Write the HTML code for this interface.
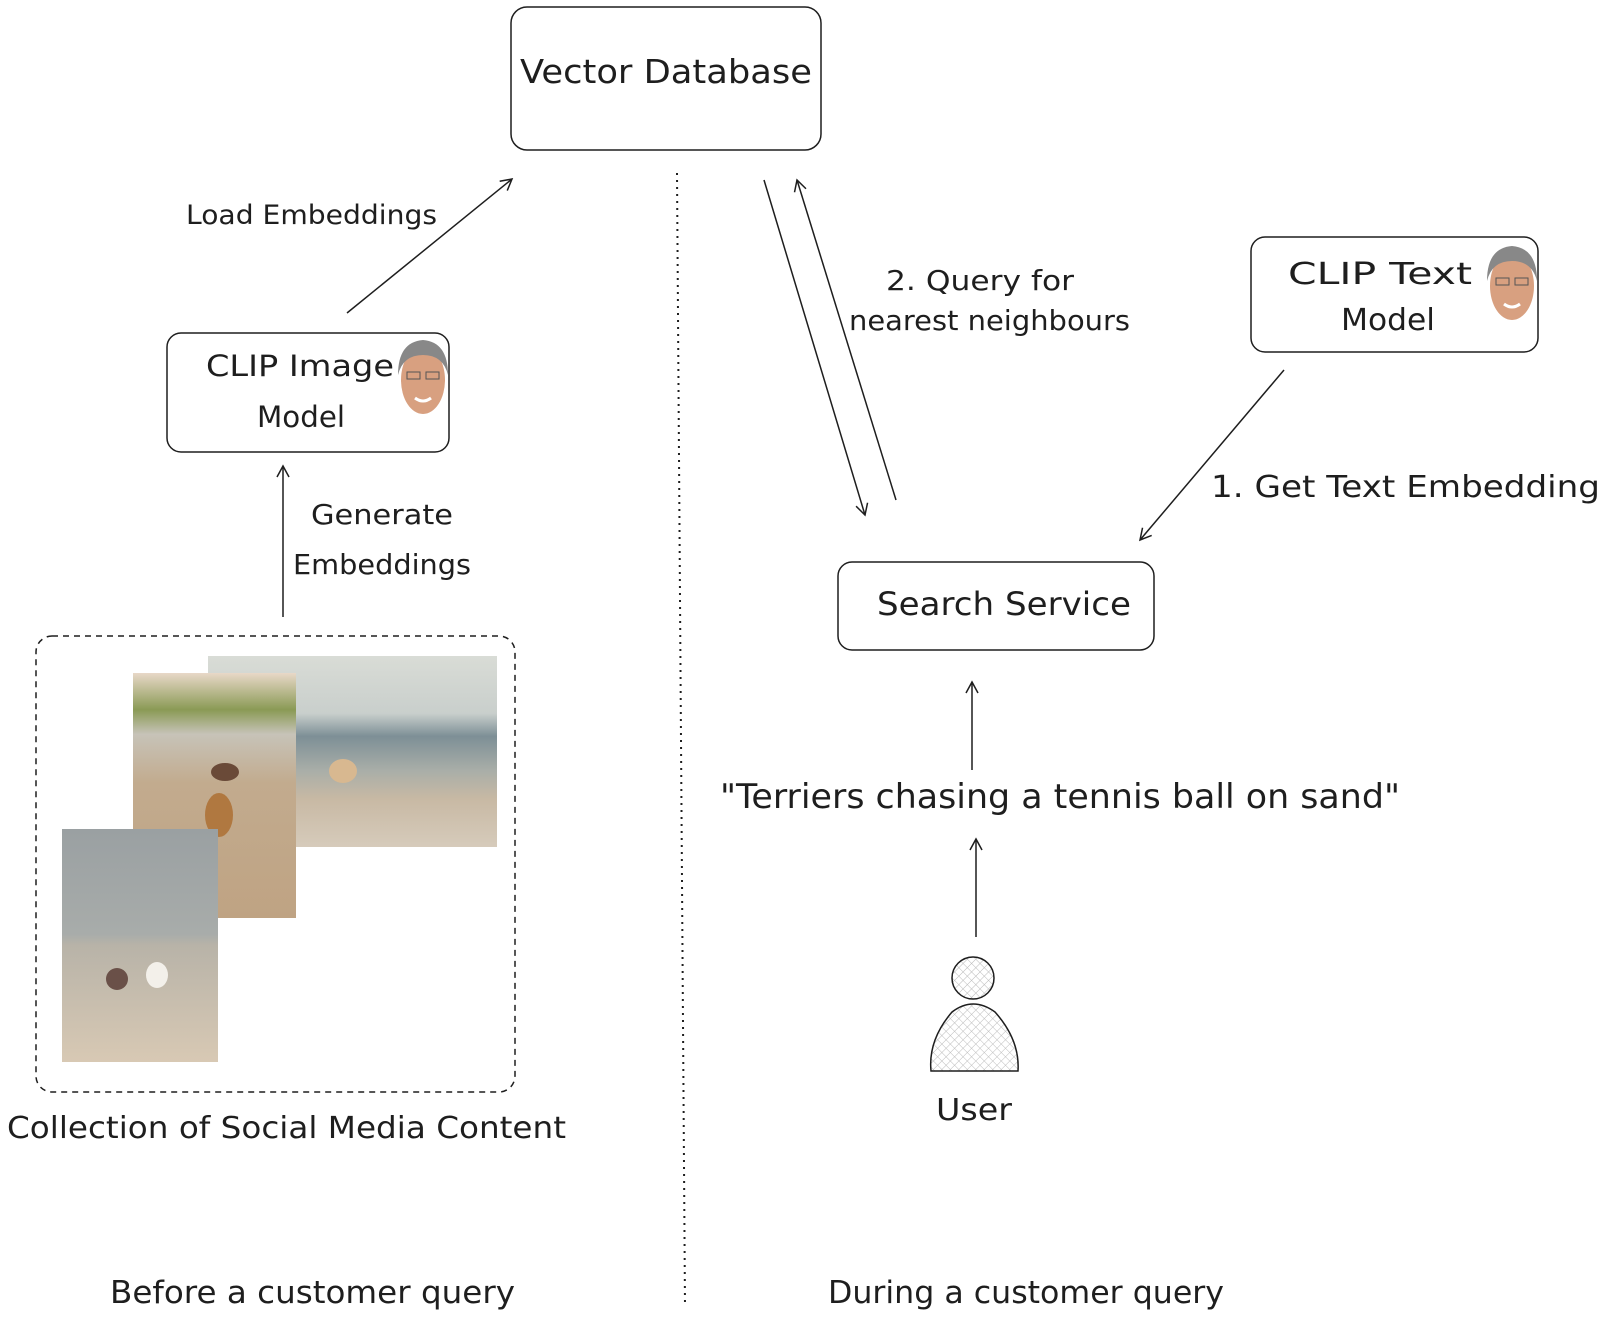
<!DOCTYPE html>
<html><head><meta charset="utf-8"><style>
html,body{margin:0;padding:0;background:#fff}
svg{display:block}
text{font-family:"DejaVu Sans","Liberation Sans",sans-serif;fill:#1e1e1e}
</style></head><body>
<svg width="1600" height="1321" viewBox="0 0 1600 1321" xmlns="http://www.w3.org/2000/svg">
<defs>
<marker id="ah" markerWidth="14" markerHeight="14" refX="12" refY="7" orient="auto" markerUnits="userSpaceOnUse">
<path d="M1,1 L12,7 L1,13" fill="none" stroke="#1e1e1e" stroke-width="1.5"/>
</marker>
<linearGradient id="gA" x1="0" y1="0" x2="0" y2="1">
<stop offset="0" stop-color="#d9dcd6"/><stop offset="0.3" stop-color="#c9cfcc"/><stop offset="0.42" stop-color="#7d8f96"/><stop offset="0.6" stop-color="#a9aea8"/><stop offset="0.75" stop-color="#c8b9a4"/><stop offset="1" stop-color="#d6cbbb"/>
</linearGradient>
<linearGradient id="gB" x1="0" y1="0" x2="0" y2="1">
<stop offset="0" stop-color="#e8d8c8"/><stop offset="0.15" stop-color="#8a9a55"/><stop offset="0.25" stop-color="#c7c3b8"/><stop offset="0.45" stop-color="#c2ab8e"/><stop offset="1" stop-color="#bfa383"/>
</linearGradient>
<linearGradient id="gC" x1="0" y1="0" x2="0" y2="1">
<stop offset="0" stop-color="#9aa0a2"/><stop offset="0.45" stop-color="#a8acaa"/><stop offset="0.5" stop-color="#b8b3a8"/><stop offset="1" stop-color="#d8c9b4"/>
</linearGradient>
<pattern id="hatch" width="6" height="6" patternUnits="userSpaceOnUse" patternTransform="rotate(45)">
<line x1="0" y1="0" x2="0" y2="6" stroke="#bbb" stroke-width="1"/><line x1="0" y1="0" x2="6" y2="0" stroke="#bbb" stroke-width="1"/>
</pattern>
</defs>

<!-- Vector DB -->
<rect x="511" y="7" width="310" height="143" rx="16" fill="none" stroke="#1e1e1e" stroke-width="1.5"/>
<text x="666" y="83" font-size="33" text-anchor="middle" textLength="292" lengthAdjust="spacingAndGlyphs">Vector Database</text>

<!-- divider -->
<line x1="677" y1="173" x2="685" y2="1306" stroke="#1e1e1e" stroke-width="2" stroke-dasharray="2,5"/>

<!-- CLIP Image -->
<rect x="167" y="333" width="282" height="119" rx="14" fill="none" stroke="#1e1e1e" stroke-width="1.5"/>
<text x="300" y="376" font-size="29" text-anchor="middle" textLength="188" lengthAdjust="spacingAndGlyphs">CLIP Image</text>
<text x="301" y="427" font-size="29" text-anchor="middle" textLength="88" lengthAdjust="spacingAndGlyphs">Model</text>
<g transform="translate(423,380)">
<ellipse cx="0" cy="0" rx="22" ry="34" fill="#d8a080"/>
<path d="M-25,-5 Q-25,-38 0,-40 Q25,-38 25,-5 Q20,-25 0,-25 Q-20,-25 -25,-5Z" fill="#888"/>
<rect x="-16" y="-8" width="13" height="7" fill="none" stroke="#555"/><rect x="3" y="-8" width="13" height="7" fill="none" stroke="#555"/>
<path d="M-8,18 Q0,24 8,18" stroke="#fff" stroke-width="3" fill="none"/>
</g>

<!-- Load embeddings -->
<line x1="347" y1="313" x2="512" y2="179" stroke="#1e1e1e" stroke-width="1.5" marker-end="url(#ah)"/>
<text x="186" y="224" font-size="27" textLength="251" lengthAdjust="spacingAndGlyphs">Load Embeddings</text>

<!-- Generate -->
<line x1="283" y1="617" x2="283" y2="466" stroke="#1e1e1e" stroke-width="1.5" marker-end="url(#ah)"/>
<text x="382" y="524" font-size="28" text-anchor="middle" textLength="142" lengthAdjust="spacingAndGlyphs">Generate</text>
<text x="382" y="574" font-size="28" text-anchor="middle" textLength="178" lengthAdjust="spacingAndGlyphs">Embeddings</text>

<!-- dashed collection -->
<rect x="36" y="636" width="479" height="456" rx="16" fill="none" stroke="#1e1e1e" stroke-width="1.5" stroke-dasharray="6,5"/>
<rect x="208" y="656" width="289" height="191" fill="url(#gA)"/>
<ellipse cx="343" cy="771" rx="14" ry="12" fill="#d8b890"/>
<rect x="133" y="673" width="163" height="245" fill="url(#gB)"/>
<ellipse cx="225" cy="772" rx="14" ry="9" fill="#6a4a38"/>
<ellipse cx="219" cy="815" rx="14" ry="22" fill="#b07840"/>
<rect x="62" y="829" width="156" height="233" fill="url(#gC)"/>
<ellipse cx="117" cy="979" rx="11" ry="11" fill="#6a5048"/>
<ellipse cx="157" cy="975" rx="11" ry="13" fill="#f3f0ea"/>
<text x="7" y="1138" font-size="30" textLength="559" lengthAdjust="spacingAndGlyphs">Collection of Social Media Content</text>

<text x="110" y="1303" font-size="31" textLength="405" lengthAdjust="spacingAndGlyphs">Before a customer query</text>
<text x="828" y="1303" font-size="31" textLength="396" lengthAdjust="spacingAndGlyphs">During a customer query</text>

<!-- query arrows -->
<line x1="764" y1="180" x2="865" y2="515" stroke="#1e1e1e" stroke-width="1.5" marker-end="url(#ah)"/>
<line x1="896" y1="500" x2="797" y2="180" stroke="#1e1e1e" stroke-width="1.5" marker-end="url(#ah)"/>
<text x="886" y="290" font-size="28" textLength="188" lengthAdjust="spacingAndGlyphs">2. Query for</text>
<text x="849" y="330" font-size="28" textLength="281" lengthAdjust="spacingAndGlyphs">nearest neighbours</text>

<!-- CLIP Text -->
<rect x="1251" y="237" width="287" height="115" rx="14" fill="none" stroke="#1e1e1e" stroke-width="1.5"/>
<text x="1380" y="284" font-size="30" text-anchor="middle" textLength="184" lengthAdjust="spacingAndGlyphs">CLIP Text</text>
<text x="1388" y="330" font-size="30" text-anchor="middle" textLength="94" lengthAdjust="spacingAndGlyphs">Model</text>
<g transform="translate(1512,286)">
<ellipse cx="0" cy="0" rx="22" ry="34" fill="#d8a080"/>
<path d="M-25,-5 Q-25,-38 0,-40 Q25,-38 25,-5 Q20,-25 0,-25 Q-20,-25 -25,-5Z" fill="#888"/>
<rect x="-16" y="-8" width="13" height="7" fill="none" stroke="#555"/><rect x="3" y="-8" width="13" height="7" fill="none" stroke="#555"/>
<path d="M-8,18 Q0,24 8,18" stroke="#fff" stroke-width="3" fill="none"/>
</g>

<line x1="1284" y1="370" x2="1140" y2="540" stroke="#1e1e1e" stroke-width="1.5" marker-end="url(#ah)"/>
<text x="1211" y="497" font-size="30" textLength="389" lengthAdjust="spacingAndGlyphs">1. Get Text Embedding</text>

<!-- Search Service -->
<rect x="838" y="562" width="316" height="88" rx="14" fill="none" stroke="#1e1e1e" stroke-width="1.5"/>
<text x="1004" y="615" font-size="32" text-anchor="middle" textLength="254" lengthAdjust="spacingAndGlyphs">Search Service</text>

<line x1="972" y1="770" x2="972" y2="682" stroke="#1e1e1e" stroke-width="1.5" marker-end="url(#ah)"/>
<text x="720" y="808" font-size="34" textLength="680" lengthAdjust="spacingAndGlyphs">"Terriers chasing a tennis ball on sand"</text>
<line x1="976" y1="937" x2="976" y2="839" stroke="#1e1e1e" stroke-width="1.5" marker-end="url(#ah)"/>

<!-- User -->
<circle cx="973" cy="978" r="21" fill="url(#hatch)" stroke="#1e1e1e" stroke-width="1.5"/>
<path d="M931,1071 L1018,1071 Q1020,1040 995,1012 Q973,996 952,1012 Q928,1040 931,1071Z" fill="url(#hatch)" stroke="#1e1e1e" stroke-width="1.5"/>
<text x="974" y="1120" font-size="30" text-anchor="middle" textLength="76" lengthAdjust="spacingAndGlyphs">User</text>
</svg>
</body></html>
